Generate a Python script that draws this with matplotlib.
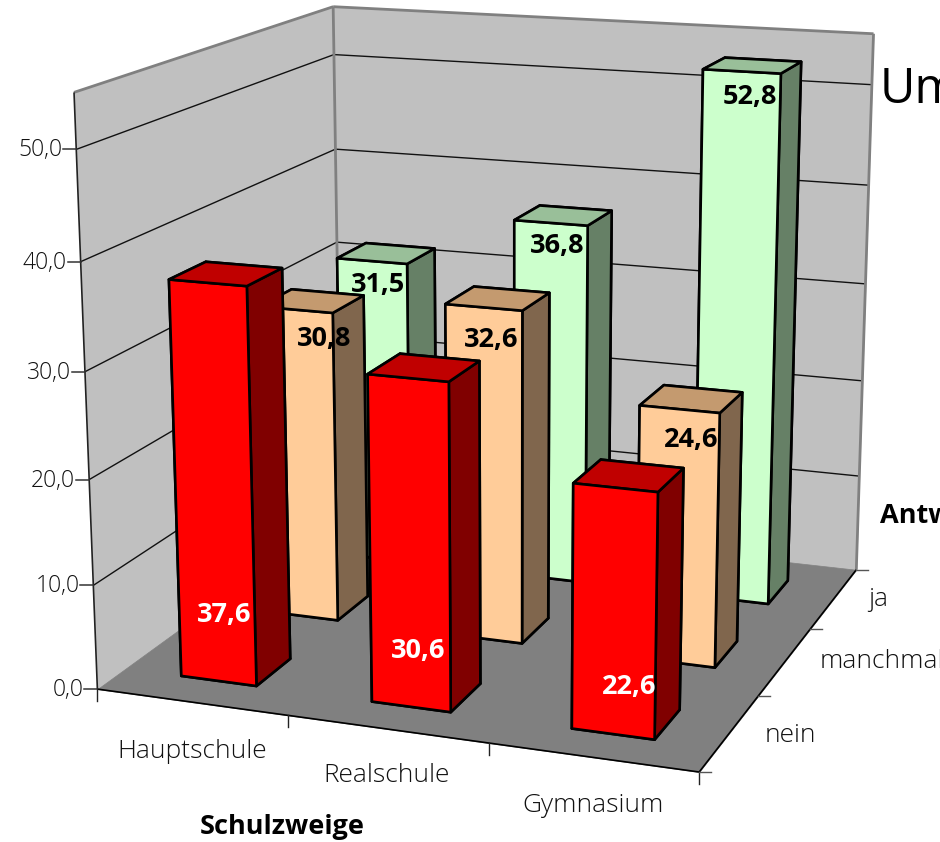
import numpy as np
import matplotlib
matplotlib.use('Agg')
import matplotlib.pyplot as plt
from mpl_toolkits.mplot3d.art3d import Poly3DCollection, Line3DCollection

plt.rcParams['font.family'] = ['Open Sans', 'DejaVu Sans']

schools = ['Hauptschule', 'Realschule', 'Gymnasium']
answers = ['nein', 'manchmal', 'ja']
nein = [37.6, 30.6, 22.6]
manchmal = [30.8, 32.6, 24.6]
ja = [31.5, 36.8, 52.8]
z_ticks = [0, 10, 20, 30, 40, 50]
z_top = 55

# face colours per answer: top, front, side
face_colors = {
    'nein': ('#C00000', '#FF0000', '#800000'),
    'manchmal': ('#C49A6F', '#FFCC99', '#80664D'),
    'ja': ('#99BF99', '#CCFFCC', '#668066'),
}
label_colors = {'nein': 'white', 'manchmal': 'black', 'ja': 'black'}

# camera calibration: axis box corners (cell units, value) -> picture pixels
calib = [
    ((0, 0, 0), (97, 688)), ((3, 0, 0), (699, 772)), ((3, 3, 0), (857, 569)),
    ((0, 0, 50), (76, 149)), ((0, 0, 40), (82, 262)), ((0, 0, 55), (74, 92)),
    ((0, 3, 55), (333, 7)), ((0, 3, 50), (333, 54)), ((0, 3, 40), (335, 149)),
    ((0, 3, 30), (338, 243)), ((3, 3, 55), (874, 33)), ((3, 3, 50), (872, 86)),
    ((3, 3, 40), (868, 185)), ((3, 1, 0), (758, 696)), ((3, 2, 0), (810, 629)),
    ((1, 0, 0), (288, 717)),
]
rows = []
for (x, y, z), (u, v) in calib:
    rows.append([x, y, z, 1, 0, 0, 0, 0, -u * x, -u * y, -u * z, -u])
    rows.append([0, 0, 0, 0, x, y, z, 1, -v * x, -v * y, -v * z, -v])
P = np.linalg.svd(np.array(rows, float))[2][-1].reshape(3, 4)
if P[2] @ np.array([1.5, 1.5, 20, 1]) < 0:
    P = -P
M = np.vstack([P[0], P[1], [0, 0, 0, -1], P[2]])


def project(x, y, z):
    u, v, w = P @ np.array([x, y, z, 1.0])
    return u / w, v / w


def add_lines(segs, color, lw):
    lc = Line3DCollection(segs, colors=color, linewidths=lw, zorder=2)
    ax.add_collection3d(lc)


fig = plt.figure(figsize=(9.4, 8.42), dpi=100)
ax = fig.add_axes([0, 0, 1, 1], projection='3d', computed_zorder=False)
ax.apply_aspect = lambda position=None: None
ax.get_proj = lambda: M
ax.viewLim.intervalx = (0, 940)
ax.viewLim.intervaly = (842, 0)
ax.set_axis_off()

# walls and floor
wall_left = [(0, 0, 0), (0, 3, 0), (0, 3, z_top), (0, 0, z_top)]
wall_back = [(0, 3, 0), (3, 3, 0), (3, 3, z_top), (0, 3, z_top)]
floor = [(0, 0, 0), (3, 0, 0), (3, 3, 0), (0, 3, 0)]
for poly, col in [(wall_left, '#C0C0C0'), (wall_back, '#C0C0C0'), (floor, '#808080')]:
    pc = Poly3DCollection([poly], facecolors=col, edgecolors=col, linewidths=0.5, zorder=1)
    ax.add_collection3d(pc)

# gridlines
grid = []
for z in z_ticks[1:]:
    grid.append([(0, 0, z), (0, 3, z)])
    grid.append([(0, 3, z), (3, 3, z)])
add_lines(grid, '#111111', 1.0)

# wall outline
add_lines([[(0, 0, z_top), (0, 3, z_top)], [(0, 3, z_top), (3, 3, z_top)],
           [(3, 3, z_top), (3, 3, 0)], [(0, 3, 0), (0, 3, z_top)]], '#808080', 2.0)
add_lines([[(0, 0, 0), (0, 0, z_top)]], '#222222', 1.2)
add_lines([[(0, 0, 0), (3, 0, 0)], [(3, 0, 0), (3, 3, 0)]], 'black', 1.2)

# bars, back row first
bar_w = 0.40
bar_d = 0.40
series = {'nein': nein, 'manchmal': manchmal, 'ja': ja}
order = 10
for j, name in reversed(list(enumerate(answers))):
    top, front, side = face_colors[name]
    for i, val in enumerate(series[name]):
        col = ax.bar3d(i + 0.5 - bar_w / 2, j + 0.5 - bar_d / 2, 0, bar_w, bar_d, val,
                       color=[front, top, front, front, side, side], shade=False,
                       edgecolor='black', linewidth=1.9)
        col.set_zorder(order)
        order += 1

# overlay in picture pixels for ticks and text
ov = fig.add_axes([0, 0, 1, 1], frameon=False)
ov.set_xlim(0, 940)
ov.set_ylim(842, 0)
ov.set_axis_off()

for z in z_ticks:
    u, v = project(0, 0, z)
    ov.plot([u - 13, u], [v, v], color='#333333', lw=1.1)
    ov.text(u - 14, v + 1, f'{z:.1f}'.replace('.', ','), ha='right', va='center',
            fontsize=16.5, color='#111111', fontweight='light')
for i in range(4):
    u, v = project(i, 0, 0)
    ov.plot([u, u], [v, v + 12], color='#222222', lw=1.0)
for j in range(4):
    u, v = project(3, j, 0)
    ov.plot([u, u + 12], [v, v], color='#555555', lw=1.0)

x_label_pos = [(192, 751), (387, 776), (593, 805)]
for name, (u, v) in zip(schools, x_label_pos):
    ov.text(u, v, name, ha='center', va='center', fontsize=19, color='#111111', fontweight='light')
y_label_pos = [(765, 735), (820, 662), (868, 600)]
for name, (u, v) in zip(answers, y_label_pos):
    ov.text(u, v, name, ha='left', va='center', fontsize=19, color='#111111', fontweight='light')

ov.text(282, 827, 'Schulzweige', ha='center', va='center', fontsize=19.5, fontweight='bold', color='black')
ov.text(880, 516, 'Antwort', ha='left', va='center', fontsize=19.5, fontweight='bold', color='black')
ov.text(880, 90, 'Um', ha='left', va='center', fontsize=35, color='black')

label_pos = {
    'nein': [(224, 615), (418, 651), (629, 687)],
    'manchmal': [(324, 339), (491, 340), (691, 440)],
    'ja': [(378, 285), (557, 246), (750, 97)],
}
for name in answers:
    for val, (u, v) in zip(series[name], label_pos[name]):
        ov.text(u, v, f'{val:.1f}'.replace('.', ','), ha='center', va='center',
                fontsize=19.5, fontweight='bold', color=label_colors[name])

fig.savefig('out.png', dpi=100)
